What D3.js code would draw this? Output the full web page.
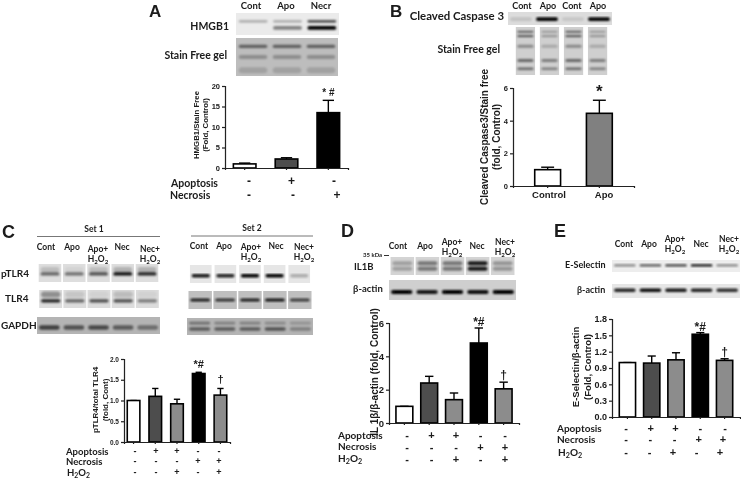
<!DOCTYPE html>
<html>
<head>
<meta charset="utf-8">
<script src="https://cdn.jsdelivr.net/npm/d3@7"></script>
<style>
html, body { margin: 0; padding: 0; background: #fff; }
text { fill: #1a1a1a; }
.lab { font-family: Lato, "Open Sans", sans-serif; font-weight: 700; }
.ax { font-family: "Liberation Sans", Arial, sans-serif; font-weight: 700; }
</style>
</head>
<body>
<div id="chart"></div>
<script>
// bar values
var catsA = ['Control', 'Apoptosis', 'Necrosis'];
var valsA = [1, 2.2, 13.5];
var errsA = [1.2, 2.5, 16.5];
var fillsA = ['#fff', '#4d4d4d', '#000'];

var catsB = ['Control', 'Apo'];
var valsB = [1, 4.45];
var errsB = [1.15, 5.25];
var fillsB = ['#fff', '#808080'];

var cats5 = ['Cont', 'Apo', 'Apo+H2O2', 'Nec', 'Nec+H2O2'];
var fills5 = ['#fff', '#4d4d4d', '#8c8c8c', '#000', '#8c8c8c'];

var valsC = [1, 1.1, 0.92, 1.65, 1.13];
var errsC = [1, 1.29, 1.03, 1.68, 1.29];

var valsD = [1, 2.4, 1.4, 4.8, 2.05];
var errsD = [1, 2.8, 1.8, 5.7, 2.45];

var valsE = [1, 0.99, 1.05, 1.52, 1.04];
var errsE = [1, 1.12, 1.18, 1.55, 1.07];

var ticksA = [0, 5, 10, 15, 20];
var ticksB = [0, 2, 4, 6];
var ticksC = [0, 0.5, 1, 1.5, 2];
var ticksD = [0, 2, 4, 6];
var ticksE = [0, 0.3, 0.6, 0.9, 1.2, 1.5, 1.8];

var marksA = ['', '', '* #'];
var marksB = ['', '*'];
var marksC = ['', '', '', '*#', '†'];

var apoA = ['-', '+', '-'];
var necA = ['-', '-', '+'];
var apo5 = ['-', '+', '+', '-', '-'];
var nec5 = ['-', '-', '-', '+', '+'];
var h2o5 = ['-', '-', '+', '-', '+'];

// blot band strengths per lane, 0 = nothing, 1 = black
var hmgbUpper = [0.3, 0.3, 0.8];
var hmgbLower = [0, 0.45, 1];
var stainA1 = [0.5, 0.5, 0.5];
var stainA2 = [0.25, 0.25, 0.25];
var stainA3 = [0.15, 0.15, 0.15];
var caspBand = [0.12, 1, 0.1, 1];
var stainB1 = [0.7, 0.35, 0.7, 0.35];
var stainB2 = [0.35, 0.2, 0.35, 0.2];
var stainB3 = [0.5, 0.4, 0.5, 0.4];
var stainB4 = [0.5, 0.4, 0.5, 0.4];
var ptlrSmear1 = [0.15, 0.05, 0.15, 0.2, 0.2];
var ptlr1 = [0.55, 0.5, 0.65, 0.95, 0.85];
var tlr1 = [0.85, 0.55, 0.65, 0.65, 0.45];
var tlrSmear1 = [0.35, 0.1, 0.05, 0.15, 0.05];
var gapdh1 = [0.65, 0.55, 0.6, 0.5, 0.4];
var ptlr2 = [0.9, 0.85, 1, 1, 0.25];
var tlr2 = [0.85, 0.75, 0.85, 0.9, 0.7];
var gapdh2a = [0.4, 0.3, 0.3, 0.25, 0.2];
var gapdh2b = [0.5, 0.5, 0.5, 0.55, 0.3];
var il1b = [0.25, 0.45, 0.45, 0.9, 0.3];
var actinD = [1, 0.9, 1, 0.95, 1];
var eselBand = [0.45, 0.65, 0.75, 0.95, 0.45];
var actinE = [0.85, 0.95, 0.9, 0.85, 0.8];

var svg = d3.select('#chart').append('svg')
    .attr('width', 741)
    .attr('height', 479)
    .style('display', 'block');

var defs = svg.append('defs');
defs.append('filter').attr('id', 'soft')
    .attr('x', '-10%').attr('y', '-30%').attr('width', '120%').attr('height', '160%')
    .append('feGaussianBlur').attr('stdDeviation', 1.3);
defs.append('filter').attr('id', 'scan')
    .attr('x', '-2%').attr('y', '-2%').attr('width', '104%').attr('height', '104%')
    .append('feGaussianBlur').attr('stdDeviation', 0.4);

var page = svg.append('g').attr('filter', 'url(#scan)');
var clipCount = 0;

function label(txt, x, y, size, anchor, cls) {
    return page.append('text')
        .attr('class', cls || 'lab')
        .attr('x', x).attr('y', y)
        .attr('font-size', size)
        .attr('text-anchor', anchor || 'start')
        .text(txt);
}

function h2o2(x, y, size, anchor) {
    var t = label('', x, y, size, anchor);
    t.append('tspan').text('H');
    t.append('tspan').attr('font-size', size * 0.72).attr('dy', 2).text('2');
    t.append('tspan').attr('dy', -2).text('O');
    t.append('tspan').attr('font-size', size * 0.72).attr('dy', 2).text('2');
    return t;
}

function laneLabels(names, centers, y, size, y2) {
    names.forEach(function(n, i) {
        if (n.indexOf('+') > 0) {
            label(n.split('+')[0] + '+', centers[i], y2 - 10.5, size, 'middle');
            h2o2(centers[i], y2, size, 'middle');
        } else {
            label(n, centers[i], y, size, 'middle');
        }
    });
}

// one blot strip: grey lanes with blurred bands across them
function blot(box, opts, bands) {
    var id = 'clip' + (clipCount++);
    defs.append('clipPath').attr('id', id).append('rect')
        .attr('x', box[0]).attr('y', box[2])
        .attr('width', box[1] - box[0]).attr('height', box[3] - box[2]);
    var n = bands[0].vals.length;
    var lane = d3.scaleBand().domain(d3.range(n)).range([box[0], box[1]]).padding(opts.gap || 0);
    var yy = d3.scaleLinear().domain([0, 1]).range([box[2], box[3]]);
    var g = page.append('g').attr('clip-path', 'url(#' + id + ')');
    if (!opts.gap) {
        g.append('rect').attr('x', box[0]).attr('y', box[2])
            .attr('width', box[1] - box[0]).attr('height', box[3] - box[2])
            .attr('fill', opts.bg);
    } else {
        g.selectAll('.lanebg').data(d3.range(n)).enter().append('rect')
            .attr('x', function(d) { return lane(d); })
            .attr('y', box[2])
            .attr('width', lane.bandwidth())
            .attr('height', box[3] - box[2])
            .attr('fill', opts.bg);
    }
    var bandG = g.append('g').attr('filter', 'url(#soft)');
    bands.forEach(function(b) {
        bandG.selectAll(null).data(b.vals).enter().append('rect')
            .attr('x', function(d, i) { return lane(i) + lane.bandwidth() * 0.08; })
            .attr('y', yy(b.pos) - b.h / 2)
            .attr('width', lane.bandwidth() * 0.84)
            .attr('height', b.h)
            .attr('rx', b.h / 2)
            .attr('fill', '#000')
            .attr('opacity', function(d) { return d; });
    });
}

// bar panel, all marks go through the scales
function barPanel(p) {
    var x = d3.scaleBand().domain(p.cats).range(p.xr).paddingInner(p.pad).paddingOuter(p.outer);
    var y = d3.scaleLinear().domain([p.ticks[0], p.ticks[p.ticks.length - 1]]).range(p.yr);
    var g = page.append('g');

    g.selectAll('.err').data(p.vals).enter().append('line')
        .attr('x1', function(d, i) { return x(p.cats[i]) + x.bandwidth() / 2; })
        .attr('x2', function(d, i) { return x(p.cats[i]) + x.bandwidth() / 2; })
        .attr('y1', function(d) { return y(d); })
        .attr('y2', function(d, i) { return y(p.errs[i]); })
        .attr('stroke', '#000').attr('stroke-width', 1.4);
    g.selectAll('.cap').data(p.errs).enter().append('line')
        .attr('x1', function(d, i) { return x(p.cats[i]) + x.bandwidth() * 0.25; })
        .attr('x2', function(d, i) { return x(p.cats[i]) + x.bandwidth() * 0.75; })
        .attr('y1', function(d) { return y(d); })
        .attr('y2', function(d) { return y(d); })
        .attr('stroke', '#000').attr('stroke-width', 1.4);
    g.selectAll('.bar').data(p.vals).enter().append('rect')
        .attr('x', function(d, i) { return x(p.cats[i]); })
        .attr('y', function(d) { return y(d); })
        .attr('width', x.bandwidth())
        .attr('height', function(d) { return y(0) - y(d); })
        .attr('fill', function(d, i) { return p.fills[i]; })
        .attr('stroke', '#000').attr('stroke-width', 1.6);

    var yAxis = d3.axisLeft(y).tickValues(p.ticks).tickSize(3).tickPadding(2)
        .tickFormat(p.fmt || d3.format('d'));
    var ya = g.append('g').attr('transform', 'translate(' + p.xr[0] + ',0)').call(yAxis);
    ya.selectAll('text').attr('class', 'ax').attr('font-size', p.tickSize).attr('fill', '#1a1a1a');
    ya.selectAll('line,path').attr('stroke', '#222').attr('stroke-width', 1.2);

    var xAxis = d3.axisBottom(x).tickSize(2).tickFormat('');
    var xa = g.append('g').attr('transform', 'translate(0,' + p.yr[0] + ')').call(xAxis);
    xa.selectAll('line,path').attr('stroke', '#222').attr('stroke-width', 1.2);

    p.yLabels.forEach(function(l) {
        g.append('text').attr('class', 'ax')
            .attr('transform', 'translate(' + l[1] + ',' + p.yMid + ') rotate(-90)')
            .attr('text-anchor', 'middle')
            .attr('font-size', p.labSize)
            .text(l[0]);
    });

    if (p.marks) {
        g.selectAll('.mark').data(p.marks).enter().append('text')
            .attr('class', 'ax')
            .attr('x', function(d, i) { return x(p.cats[i]) + x.bandwidth() / 2; })
            .attr('y', function(d, i) { return y(p.errs[i]) - p.markGap - (d == '†' ? 1 : 0); })
            .attr('text-anchor', 'middle')
            .attr('font-size', p.markSize)
            .text(function(d) { return d; });
    }
}

function signRow(signs, xr, yPos, size) {
    var x = d3.scalePoint().domain(d3.range(signs.length)).range(xr);
    page.append('g').selectAll('text').data(signs).enter().append('text')
        .attr('class', 'ax')
        .attr('x', function(d, i) { return x(i); })
        .attr('y', yPos)
        .attr('text-anchor', 'middle')
        .attr('font-size', size)
        .text(function(d) { return d; });
}

// ---------- A
label('A', 149, 17, 17, 'start', 'ax');
laneLabels(['Cont', 'Apo', 'Necr'], [251, 286, 321], 9, 9.5);
label('HMGB1', 229, 30, 10.5, 'end');
label('Stain Free gel', 227, 59, 10.5, 'end');
blot([236, 339, 13, 35], {bg: '#ebebeb'}, [
    {pos: 0.38, h: 2.2, vals: hmgbUpper},
    {pos: 0.68, h: 3.8, vals: hmgbLower}
]);
blot([236, 338, 38, 76], {bg: '#bdbdbd'}, [
    {pos: 0.22, h: 3.2, vals: stainA1},
    {pos: 0.5, h: 4, vals: stainA2},
    {pos: 0.85, h: 6, vals: stainA3}
]);
barPanel({cats: catsA, vals: valsA, errs: errsA, fills: fillsA, ticks: ticksA,
    xr: [225, 348], yr: [168, 86], pad: 0.46, outer: 0.2, tickSize: 7.5,
    labSize: 7.8, yMid: 125, yLabels: [['HMGB1/Stain Free', 199], ['(Fold, Control)', 208]],
    marks: marksA, markGap: 4, markSize: 10});
label('Apoptosis', 171, 187, 10.5);
label('Necrosis', 170, 199, 10.5);
signRow(apoA, [249, 334], 185, 12);
signRow(necA, [249, 337], 199, 12);

// ---------- B
label('B', 390, 17, 17, 'start', 'ax');
laneLabels(['Cont', 'Apo', 'Cont', 'Apo'], [522, 548, 572, 598], 9, 9);
label('Cleaved Caspase 3', 504, 20, 11.4, 'end');
label('Stain Free gel', 500, 53, 10.5, 'end');
blot([508, 612, 12, 25], {bg: '#dcdcdc'}, [{pos: 0.55, h: 3.6, vals: caspBand}]);
blot([511, 612, 27, 75], {bg: '#cfcfcf', gap: 0.2}, [
    {pos: 0.1, h: 1.6, vals: stainB1},
    {pos: 0.19, h: 1.6, vals: stainB1},
    {pos: 0.4, h: 3, vals: stainB2},
    {pos: 0.7, h: 3, vals: stainB3},
    {pos: 0.87, h: 2.4, vals: stainB4}
]);
barPanel({cats: catsB, vals: valsB, errs: errsB, fills: fillsB, ticks: ticksB,
    xr: [513, 634], yr: [186, 88], pad: 0.5, outer: 0.42, tickSize: 7.5,
    labSize: 10, yMid: 137, yLabels: [['Cleaved Caspase3/Stain free', 488], ['(fold, Control)', 500]],
    marks: marksB, markGap: 3, markSize: 17});
label('Control', 549, 198, 9.5, 'middle', 'ax');
label('Apo', 604, 198, 9.5, 'middle', 'ax');

// ---------- C
label('C', 2, 238, 18, 'start', 'ax');
label('Set 1', 94, 232, 8.5, 'middle');
label('Set 2', 252, 231, 8.5, 'middle');
page.append('line').attr('x1', 37).attr('x2', 160).attr('y1', 236.5).attr('y2', 236.5).attr('stroke', '#777');
page.append('line').attr('x1', 191).attr('x2', 313).attr('y1', 236).attr('y2', 236).attr('stroke', '#777');
laneLabels(cats5, [46, 72, 98, 122, 150], 250, 8.5, 262);
laneLabels(cats5, [199, 224, 251, 276, 304], 249, 8.5, 260);
label('pTLR4', 1, 277, 10);
label('TLR4', 5, 302, 10);
label('GAPDH', 1, 329, 10);
blot([37, 160, 264, 282], {bg: '#dedede', gap: 0.07}, [
    {pos: 0.3, h: 5, vals: ptlrSmear1},
    {pos: 0.55, h: 3.2, vals: ptlr1}
]);
blot([38, 160, 290, 308], {bg: '#dcdcdc', gap: 0.05}, [
    {pos: 0.25, h: 6, vals: tlrSmear1},
    {pos: 0.6, h: 3.2, vals: tlr1}
]);
blot([37, 160, 317, 334], {bg: '#b4b4b4'}, [{pos: 0.62, h: 4.5, vals: gapdh1}]);
blot([187, 313, 265, 283], {bg: '#e6e6e6', gap: 0.12}, [{pos: 0.6, h: 3.4, vals: ptlr2}]);
blot([187, 313, 291, 309], {bg: '#bfbfbf', gap: 0.06}, [{pos: 0.5, h: 3.2, vals: tlr2}]);
blot([187, 313, 318, 335], {bg: '#b4b4b4'}, [
    {pos: 0.3, h: 2.6, vals: gapdh2a},
    {pos: 0.65, h: 3.6, vals: gapdh2b}
]);
barPanel({cats: cats5, vals: valsC, errs: errsC, fills: fills5, ticks: ticksC,
    xr: [124, 230], yr: [442, 359], pad: 0.42, outer: 0.15, tickSize: 6.5,
    labSize: 8, yMid: 400, yLabels: [['pTLR4/total TLR4', 98], ['(fold, Cont)', 108]],
    fmt: d3.format('.1f'), marks: marksC, markGap: 4, markSize: 11});
label('Apoptosis', 66, 455, 9.5);
label('Necrosis', 66, 465, 9.5);
h2o2(67, 476, 9.5);
signRow(apo5, [135, 219], 454, 9);
signRow(nec5, [135, 219], 464, 9);
signRow(h2o5, [135, 219], 475, 9);

// ---------- D
label('D', 341, 237, 18, 'start', 'ax');
laneLabels(cats5, [398, 425, 452, 477, 505], 249, 8.5, 255);
label('35 kDa', 363, 257, 6);
page.append('line').attr('x1', 384).attr('x2', 389).attr('y1', 255.5).attr('y2', 255.5).attr('stroke', '#333');
label('IL1B', 354, 270, 9.5);
label('β-actin', 353, 292, 9.5);
blot([389, 516, 257, 275], {bg: '#d4d4d4', gap: 0.06}, [
    {pos: 0.35, h: 4, vals: il1b},
    {pos: 0.65, h: 4, vals: il1b}
]);
blot([389, 516, 280, 300], {bg: '#cfcfcf'}, [{pos: 0.6, h: 4, vals: actinD}]);
barPanel({cats: cats5, vals: valsD, errs: errsD, fills: fills5, ticks: ticksD,
    xr: [389, 519], yr: [423, 323], pad: 0.32, outer: 0.28, tickSize: 9.5,
    labSize: 10, yMid: 372, yLabels: [['IL 1β/β-actin (fold, Control)', 378]],
    marks: ['', '', '', '*#', '†'], markGap: 2, markSize: 12});
label('Apoptosis', 338, 439, 10);
label('Necrosis', 338, 450, 10);
h2o2(338, 462, 10);
signRow(apo5, [407, 505], 438.5, 11);
signRow(nec5, [407, 505], 450.5, 11);
signRow(h2o5, [407, 505], 462.5, 11);

// ---------- E
label('E', 554, 237, 18, 'start', 'ax');
laneLabels(cats5, [624, 649, 675, 701, 729], 247, 8.5, 252);
label('E-Selectin', 565, 268, 9);
label('β-actin', 577, 293, 9);
blot([612, 740, 260, 272], {bg: '#ededed'}, [{pos: 0.45, h: 2.4, vals: eselBand}]);
blot([612, 740, 284, 298], {bg: '#e6e6e6'}, [{pos: 0.45, h: 3.4, vals: actinE}]);
barPanel({cats: cats5, vals: valsE, errs: errsE, fills: fills5, ticks: ticksE,
    xr: [612, 740], yr: [417, 319], pad: 0.33, outer: 0.3, tickSize: 9,
    labSize: 9.6, yMid: 367, yLabels: [['E-Selectin/β-actin', 579], ['(Fold, Control)', 591]],
    fmt: d3.format('.1f'), marks: ['', '', '', '*#', '†'], markGap: 2, markSize: 12});
label('Apoptosis', 557, 432, 10);
label('Necrosis', 557, 443, 10);
h2o2(558, 456, 10);
signRow(apo5, [626, 725], 431.5, 11);
signRow(nec5, [626, 723], 442.5, 11);
signRow(h2o5, [626, 720], 455.5, 11);
</script>
</body>
</html>
